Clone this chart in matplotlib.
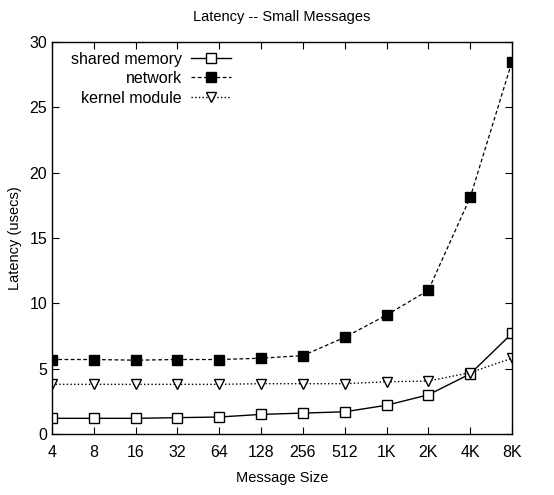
import numpy as np
import matplotlib
matplotlib.use('Agg')
import matplotlib.pyplot as plt

sizes = ['4', '8', '16', '32', '64', '128', '256', '512', '1K', '2K', '4K', '8K']
shared = [1.2, 1.2, 1.2, 1.25, 1.3, 1.5, 1.6, 1.7, 2.2, 3.0, 4.6, 7.7]
network = [5.7, 5.7, 5.65, 5.7, 5.7, 5.8, 6.0, 7.4, 9.1, 11.0, 18.1, 28.5]
kernel = [3.8, 3.8, 3.8, 3.8, 3.8, 3.85, 3.85, 3.85, 4.0, 4.05, 4.7, 5.8]

plt.rcParams['font.family'] = ['Liberation Sans', 'DejaVu Sans']
plt.rcParams['font.size'] = 11

fig = plt.figure(figsize=(5.54, 4.95), dpi=100)
ax = fig.add_axes([52 / 554, 1 - 434 / 495, 460 / 554, 392 / 495])

x = np.arange(len(sizes))
ax.plot(x, shared, '-', color='black', lw=1, marker='s', ms=6.5, mfc='white', mew=1, label='shared memory')
ax.plot(x, network, '--', color='black', lw=0.9, dashes=(3, 2), marker='s', ms=6.5, mfc='black', label='network')
ax.plot(x, kernel, ':', color='black', lw=1, marker='v', ms=6.5, mfc='white', mew=1, label='kernel module')

ax.set_xlim(0, len(sizes) - 1)
ax.set_ylim(0, 30)
ax.set_xticks(x)
ax.set_xticklabels(sizes)
ax.set_yticks(range(0, 31, 5))
ax.tick_params(direction='in', top=True, right=True, length=5, labelsize=11.5)
ax.tick_params(axis='x', pad=8)
for s in ax.spines.values():
    s.set_linewidth(1)

ax.set_title('Latency -- Small Messages', fontsize=10.5, pad=15)
ax.set_xlabel('Message Size', fontsize=10.5, labelpad=8)
ax.set_ylabel('Latency (usecs)', fontsize=10.5, labelpad=5)

ax.legend(loc='upper left', markerfirst=False, frameon=False, fontsize=11.5,
          handlelength=2.5, handletextpad=0.6, labelspacing=0.28, borderaxespad=0.2,
          bbox_to_anchor=(0.02, 1.0))

fig.savefig('out.png', dpi=100)
